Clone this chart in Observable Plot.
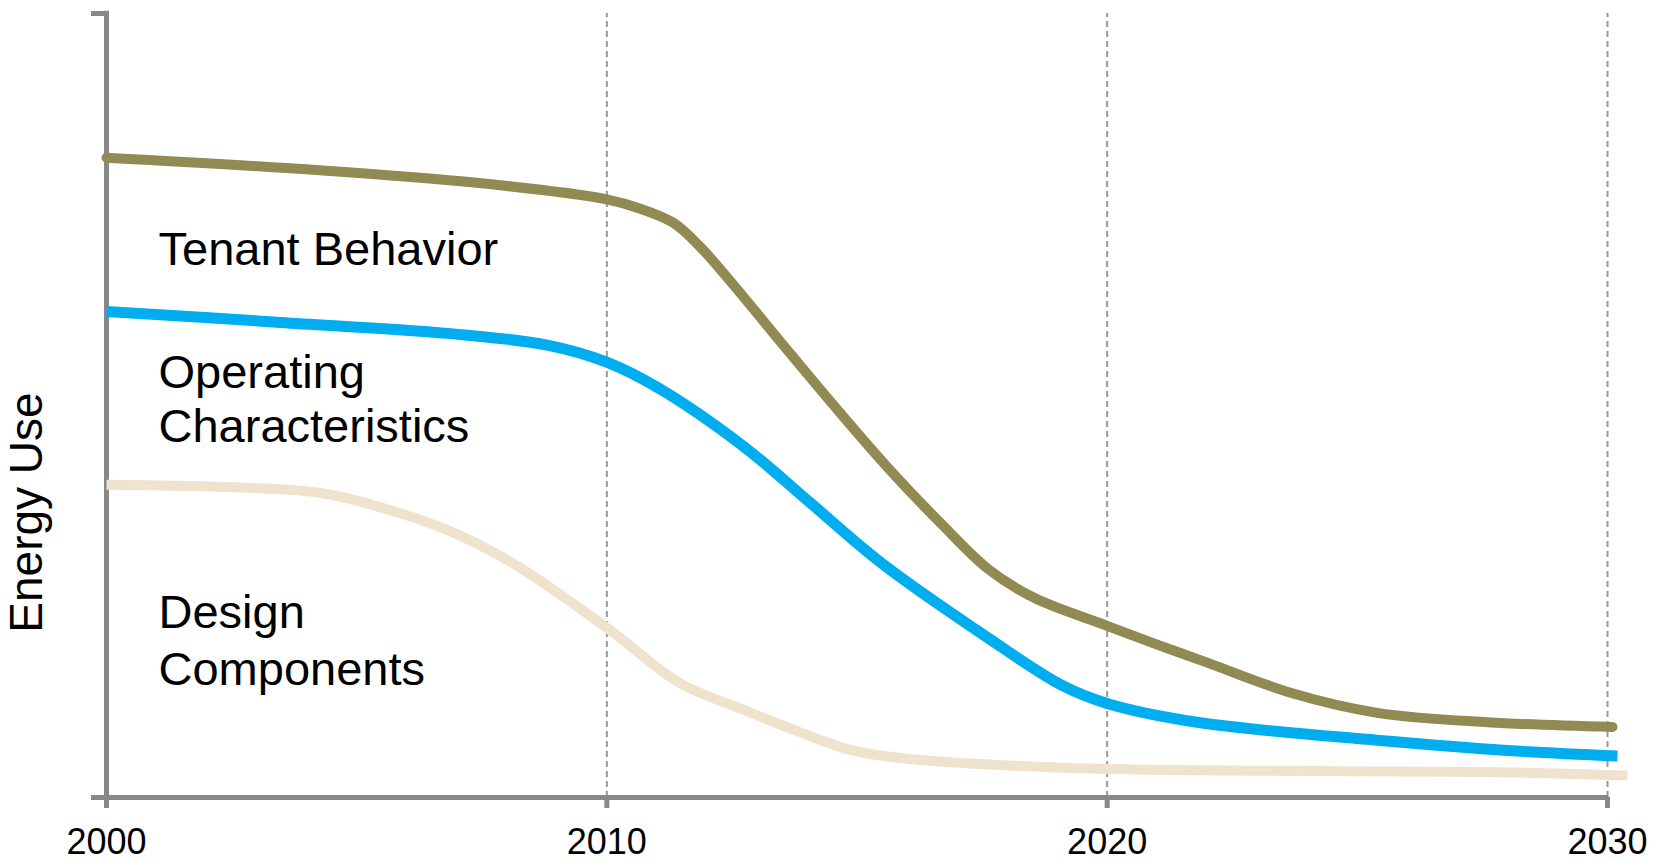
<!DOCTYPE html>
<html>
<head>
<meta charset="utf-8">
<script src="https://cdn.jsdelivr.net/npm/d3@7"></script>
<script src="https://cdn.jsdelivr.net/npm/@observablehq/plot@0.6"></script>
<style>
  html, body { margin: 0; padding: 0; background: #fff; }
  #chart svg { display: block; }
</style>
</head>
<body>
<div id="chart"></div>
<script>
// ---- data (years, energy use in arbitrary units 0..100) ----
const tenantYears  = [2000, 2004.26, 2007.4, 2010, 2010.67, 2011.33, 2011.87, 2012.41, 2013.67, 2014.67, 2015.67, 2016.67, 2017.61, 2018.53, 2020, 2021, 2022, 2023.7, 2025.4, 2027.6, 2030.1];
const tenantValues = [81.6, 80.0, 78.4, 76.3, 75.1, 73.3, 70.2, 66.3, 56.6, 49.0, 41.7, 35.0, 29.2, 25.5, 21.9, 19.5, 17.2, 13.3, 10.8, 9.6, 9.0];

const operYears  = [2000, 2003.48, 2006.82, 2008.81, 2010.01, 2011.04, 2012.73, 2014.1, 2015.49, 2017.61, 2019.1, 2020, 2021.8, 2025.4, 2028.0, 2030.2];
const operValues = [62.0, 60.6, 59.2, 57.7, 55.5, 52.2, 44.8, 37.4, 29.9, 20.4, 14.3, 12.0, 9.6, 7.3, 6.0, 5.3];

const designYears  = [2000, 2004.22, 2005.48, 2006.82, 2008.14, 2010.01, 2011.46, 2012.73, 2013.79, 2014.85, 2015.91, 2019.1, 2023.3, 2027.6, 2030.4];
const designValues = [39.9, 38.9, 37.0, 34.1, 29.8, 21.6, 14.6, 11.2, 8.5, 6.1, 5.0, 3.8, 3.4, 3.25, 2.8];

const tickYears = [2000, 2010, 2020, 2030];
const gridYears = [2010, 2020, 2030];

const labelLines = ["Tenant Behavior", "Operating", "Characteristics", "Design", "Components"];
const labelYears = [2001.04, 2001.04, 2001.04, 2001.04, 2001.04];
const labelValues = [67.9, 52.2, 45.3, 21.6, 14.3];

const yTitle = "Energy Use";

// ---- build tables ----
const toRows = (xs, ys) => xs.map((x, i) => ({x, y: ys[i]}));
const tenant = toRows(tenantYears, tenantValues);
const oper = toRows(operYears, operValues);
const design = toRows(designYears, designValues);
const labels = labelLines.map((t, i) => ({t, x: labelYears[i], y: labelValues[i]}));

const axisColor = "#888888";
const font = "Liberation Sans, Arial, Helvetica, sans-serif";

const chart = Plot.plot({
  width: 1662,
  height: 860,
  marginLeft: 106,
  marginRight: 55,
  marginTop: 13,
  marginBottom: 63,
  style: {fontFamily: font, background: "#fff", overflow: "visible"},
  x: {domain: [2000, 2030], axis: null},
  y: {domain: [0, 100], axis: null},
  marks: [
    // dashed vertical gridlines
    Plot.ruleX(gridYears, {y1: 0, y2: 100, stroke: "#999", strokeWidth: 2, strokeDasharray: "6,4"}),
    // axes
    Plot.ruleY([0], {x1: 1999.7, x2: 2030.03, stroke: axisColor, strokeWidth: 5}),
    Plot.ruleX([2000], {y1: -1.4, y2: 100.3, stroke: axisColor, strokeWidth: 5}),
    Plot.ruleY([100], {x1: 1999.7, x2: 2000, stroke: axisColor, strokeWidth: 5}),
    Plot.ruleX(gridYears, {y1: -1.4, y2: 0, stroke: axisColor, strokeWidth: 5}),
    // series
    Plot.line(design, {x: "x", y: "y", stroke: "#EFE3CD", strokeWidth: 10, curve: "catmull-rom", strokeLinecap: "butt"}),
    Plot.line(oper, {x: "x", y: "y", stroke: "#00ADEF", strokeWidth: 11, curve: "catmull-rom", strokeLinecap: "butt"}),
    Plot.line(tenant, {x: "x", y: "y", stroke: "#918A53", strokeWidth: 10, curve: "catmull-rom", strokeLinecap: "round"}),
    // tick labels
    Plot.text(tickYears, {x: d => d, y: 0, text: d => String(d), dy: 45, fontSize: 36, lineAnchor: "middle", fill: "#000"}),
    // annotations
    Plot.text(labels, {x: "x", y: "y", text: "t", fontSize: 47, textAnchor: "start", lineAnchor: "bottom", fill: "#000"}),
    // y title
    Plot.text([yTitle], {x: 1998.72, y: 36.35, text: d => d, rotate: -90, fontSize: 46, textAnchor: "middle", lineAnchor: "bottom", fill: "#000"})
  ]
});
document.getElementById("chart").appendChild(chart);
</script>
</body>
</html>
